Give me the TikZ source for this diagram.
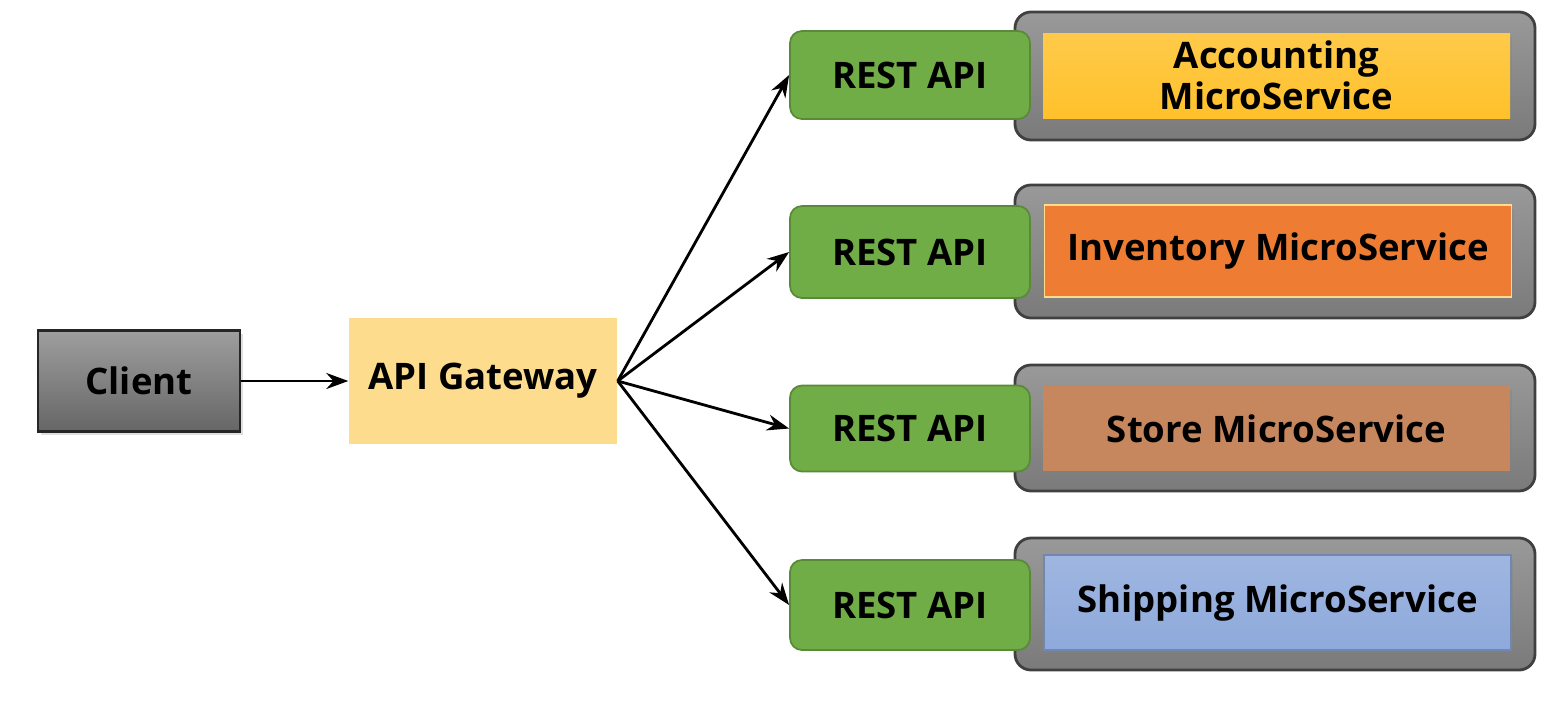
\documentclass[tikz,border=0pt]{standalone}
\usepackage{fontspec}
\setmainfont{Open Sans}
\usetikzlibrary{positioning,shadows,arrows.meta}

\definecolor{apigreen}{HTML}{70AD47}
\definecolor{gatewayyellow}{HTML}{FDDC8E}
\definecolor{accountyellow}{HTML}{FFC12B}
\definecolor{inventoryorange}{HTML}{EE7D33}
\definecolor{storebrown}{HTML}{C6875E}
\definecolor{shippingblue}{HTML}{8EA9DB}

\tikzset{
  boxtext/.style={font=\bfseries\fontsize{10.4}{11.6}\selectfont, align=center, inner sep=0pt, text=black},
  clientbox/.style={boxtext, draw=black!85, line width=0.6pt, top color=black!38, bottom color=black!60,
    minimum width=2.02cm, minimum height=1.01cm, drop shadow={opacity=0.25, shadow xshift=0.3mm, shadow yshift=-0.3mm}},
  gatewaybox/.style={boxtext, fill=gatewayyellow, minimum width=2.68cm, minimum height=1.26cm},
  restbox/.style={boxtext, draw=apigreen!80!black, line width=0.5pt, fill=apigreen, rounded corners=0.12cm,
    minimum width=2.4cm, minimum height=0.88cm},
  framebox/.style={draw=black!75, line width=0.8pt, top color=black!40, bottom color=black!52,
    rounded corners=0.16cm, minimum width=5.2cm},
  svcbox/.style={boxtext, minimum width=4.67cm, drop shadow={opacity=0.3, shadow xshift=0.2mm, shadow yshift=-0.4mm}},
  link/.style={-{Stealth[length=2.2mm, width=1.6mm]}, line width=0.8pt, black}
}

\begin{document}
\begin{tikzpicture}
  %%%%% START %%%%%
  \useasboundingbox (0,0) rectangle (15.58,7);

  \node[clientbox] (client) at (1.39,3.19) {Client};
  \node[gatewaybox] (gateway) at (4.83,3.19) {API Gateway};

  % grey frames behind the services
  \node[framebox, minimum height=1.28cm] (frame1) at (12.75,6.24) {};
  \node[framebox, minimum height=1.33cm] (frame2) at (12.75,4.485) {};
  \node[framebox, minimum height=1.26cm] (frame3) at (12.75,2.72) {};
  \node[framebox, minimum height=1.32cm] (frame4) at (12.75,0.96) {};

  \node[restbox] (rest1) at (9.10,6.25) {REST API};
  \node[restbox, minimum height=0.92cm] (rest2) at (9.10,4.48) {REST API};
  \node[restbox, minimum height=0.86cm] (rest3) at (9.10,2.715) {REST API};
  \node[restbox, minimum height=0.9cm] (rest4) at (9.10,0.95) {REST API};

  \node[svcbox, top color=accountyellow!85!white, bottom color=accountyellow, minimum height=0.85cm]
    (accounting) at (12.765,6.245) {Accounting\\MicroService};
  \node[svcbox, fill=inventoryorange, draw=gatewayyellow, line width=0.5pt, minimum height=0.92cm]
    (inventory) at (12.78,4.49) {Inventory MicroService};
  \node[svcbox, fill=storebrown, minimum height=0.85cm]
    (store) at (12.765,2.715) {Store MicroService};
  \node[svcbox, top color=shippingblue!85!white, bottom color=shippingblue, draw=shippingblue!80!black, line width=0.4pt, minimum height=0.95cm]
    (shipping) at (12.775,0.975) {Shipping MicroService};

  \draw[link] (client) -- (gateway);
  \foreach \i in {1,...,4}
    \draw[link] (gateway.east) -- (rest\i.west);

  %%%%% END %%%%%
\end{tikzpicture}
\end{document}
